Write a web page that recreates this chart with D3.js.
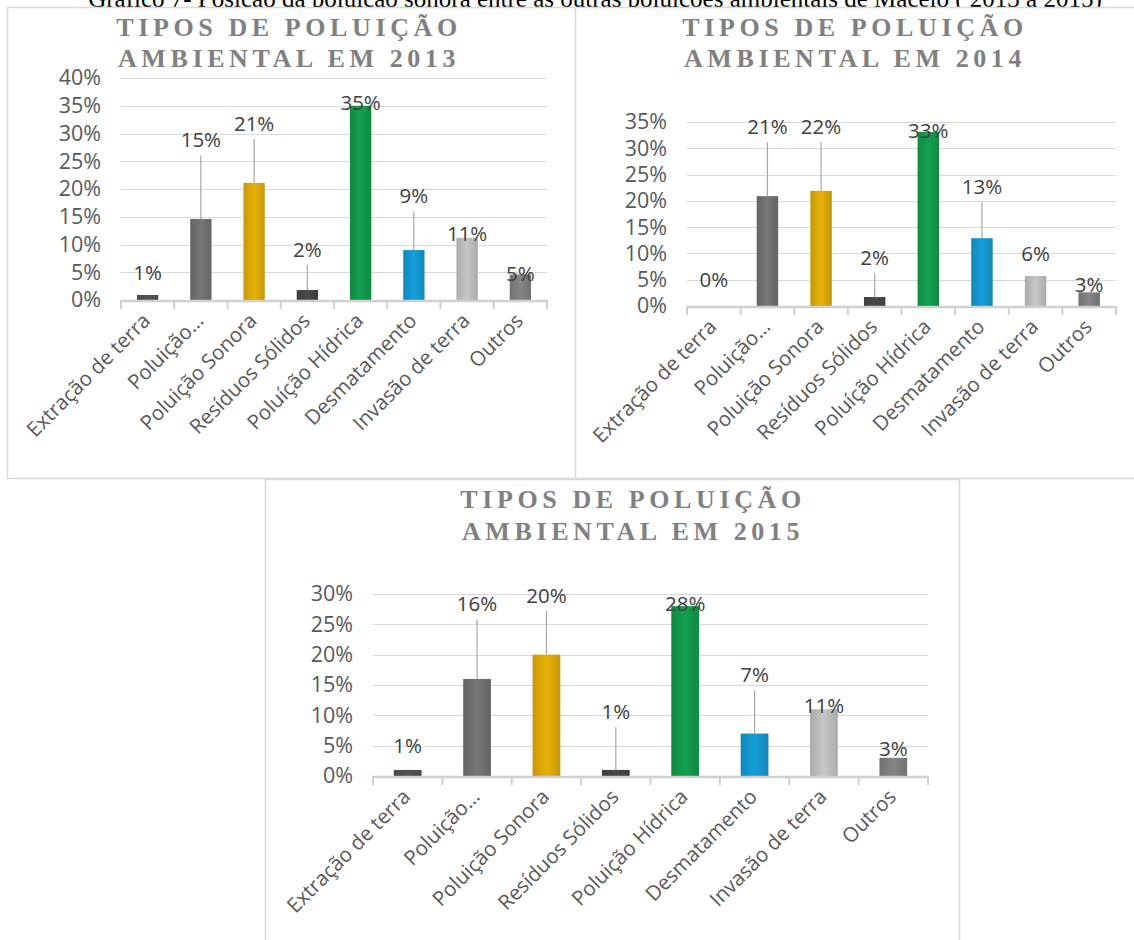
<!DOCTYPE html>
<html lang="pt">
<head>
    <meta charset="UTF-8">
    <title>Tipos de poluição ambiental</title>
    <script src="https://d3js.org/d3.v7.min.js"></script>
    <style>
        body { margin: 0; background: #fff; }
        .grid line { stroke: #d9d9d9; stroke-width: 1.2; }
        .tick-label { font-family: "Open Sans", sans-serif; font-size: 21.5px; fill: #595959; }
        .cat { font-size: 20.5px; }
        .data-label { font-family: "Open Sans", sans-serif; font-size: 20.5px; fill: #404040; }
        .title { font-family: "Liberation Serif", "Times New Roman", serif; font-weight: bold;
                 font-size: 26px; fill: #808080; letter-spacing: 4.6px; }
        .caption { font-family: "Liberation Serif", "Times New Roman", serif; font-size: 25px; fill: #000; }
    </style>
</head>
<body>
    <svg width="1134" height="940"></svg>
    <script>
        // categories and values
        const categories = ["Extração de terra", "Poluição…", "Poluição Sonora", "Resíduos Sólidos",
                            "Poluíção Hídrica", "Desmatamento", "Invasão de terra", "Outros"];
        const categories2015 = ["Extração de terra", "Poluição…", "Poluição Sonora", "Resíduos Sólidos",
                                "Poluição Hídrica", "Desmatamento", "Invasão de terra", "Outros"];
        const values2013 = [0.009, 0.146, 0.211, 0.018, 0.350, 0.090, 0.112, 0.046];
        const values2014 = [0.000, 0.209, 0.219, 0.017, 0.331, 0.129, 0.057, 0.026];
        const values2015 = [0.010, 0.160, 0.200, 0.010, 0.280, 0.070, 0.110, 0.030];
        // where each data label sits (value units), the labels were dragged in the original
        const labelAt2013 = [0.049, 0.288, 0.317, 0.090, 0.355, 0.187, 0.120, 0.047];
        const labelAt2014 = [0.049, 0.340, 0.340, 0.091, 0.333, 0.226, 0.099, 0.040];
        const labelAt2015 = [0.049, 0.283, 0.297, 0.105, 0.283, 0.166, 0.115, 0.045];
        const yTicks2013 = [0, 0.05, 0.10, 0.15, 0.20, 0.25, 0.30, 0.35, 0.40];
        const yTicks2014 = [0, 0.05, 0.10, 0.15, 0.20, 0.25, 0.30, 0.35];
        const yTicks2015 = [0, 0.05, 0.10, 0.15, 0.20, 0.25, 0.30];
        const caption = "Gráfico 7- Posição da poluição sonora entre as outras poluições ambientais de Maceió ( 2013 a 2015)";

        const barColors = ["#505050", "#707070", "#dca808", "#454545", "#12994a", "#1497cf", "#bdbdbd", "#7e7e7e"];

        const panels = [
            { year: 2013, cats: categories, values: values2013, labelAt: labelAt2013, ticks: yTicks2013,
              frame: [7, 7, 569, 471], x0: 121, x1: 547, y0: 300, y1: 78, titleX: 289, titleY: [36, 67] },
            { year: 2014, cats: categories, values: values2014, labelAt: labelAt2014, ticks: yTicks2014,
              frame: [575, 7, 600, 471], x0: 687, x1: 1116, y0: 306, y1: 122, titleX: 855, titleY: [36, 67] },
            { year: 2015, cats: categories2015, values: values2015, labelAt: labelAt2015, ticks: yTicks2015,
              frame: [265, 479, 694, 470], x0: 373, x1: 928, y0: 776, y1: 594, titleX: 633, titleY: [508, 540] }
        ];

        const svg = d3.select("svg");
        const fmt = d3.format(".0%");

        // shaded bar fills
        const defs = svg.append("defs");
        barColors.forEach(function(c, i) {
            const g = defs.append("linearGradient").attr("id", "bar" + i)
                .attr("x1", "0%").attr("x2", "100%").attr("y1", "0%").attr("y2", "0%");
            g.append("stop").attr("offset", "0%").attr("stop-color", d3.color(c).darker(0.3));
            g.append("stop").attr("offset", "50%").attr("stop-color", d3.color(c).brighter(0.15));
            g.append("stop").attr("offset", "100%").attr("stop-color", d3.color(c).darker(0.3));
        });

        svg.append("text").attr("class", "caption")
            .attr("x", 595).attr("y", 7).attr("text-anchor", "middle")
            .text(caption);

        panels.forEach(function(p) {
            const g = svg.append("g");
            g.append("rect")
                .attr("x", p.frame[0] + 0.5).attr("y", p.frame[1] + 0.5)
                .attr("width", p.frame[2]).attr("height", p.frame[3])
                .attr("fill", "#fff").attr("stroke", "#d9d9d9").attr("stroke-width", 1.5);

            const title = g.append("text").attr("class", "title").attr("text-anchor", "middle");
            title.append("tspan").attr("x", p.titleX).attr("y", p.titleY[0]).text("TIPOS DE POLUIÇÃO");
            title.append("tspan").attr("x", p.titleX).attr("y", p.titleY[1]).text("AMBIENTAL EM " + p.year);

            const x = d3.scaleBand().domain(d3.range(p.cats.length)).range([p.x0, p.x1]).paddingInner(0.6).paddingOuter(0.3);
            const y = d3.scaleLinear().domain([0, d3.max(p.ticks)]).range([p.y0, p.y1]);

            // gridlines
            g.append("g").attr("class", "grid")
                .selectAll("line").data(p.ticks.slice(1)).join("line")
                .attr("x1", p.x0).attr("x2", p.x1)
                .attr("y1", d => Math.round(y(d)) + 0.5).attr("y2", d => Math.round(y(d)) + 0.5);

            // y tick labels
            const yAxis = d3.axisLeft(y).tickValues(p.ticks).tickFormat(fmt).tickSize(0).tickPadding(20);
            const ya = g.append("g").attr("transform", "translate(" + p.x0 + ",0)").call(yAxis);
            ya.select(".domain").remove();
            ya.selectAll("text").attr("class", "tick-label").attr("fill", null).attr("font-size", null).attr("font-family", null);

            // bars
            g.selectAll("rect.bar").data(p.values).join("rect").attr("class", "bar")
                .attr("x", (d, i) => x(i)).attr("width", x.bandwidth())
                .attr("y", d => y(d)).attr("height", d => y(0) - y(d))
                .attr("fill", (d, i) => "url(#bar" + i + ")");

            // base axis with tick marks between categories
            const step = (p.x1 - p.x0) / p.cats.length;
            g.append("line").attr("x1", p.x0).attr("x2", p.x1).attr("y1", p.y0 + 1).attr("y2", p.y0 + 1)
                .attr("stroke", "#d0d0d0").attr("stroke-width", 2.5);
            g.selectAll("line.xt").data(d3.range(p.cats.length + 1)).join("line").attr("class", "xt")
                .attr("x1", i => p.x0 + i * step).attr("x2", i => p.x0 + i * step)
                .attr("y1", p.y0).attr("y2", p.y0 + 9)
                .attr("stroke", "#d0d0d0").attr("stroke-width", 2);

            // category labels rotated
            g.selectAll("text.cat").data(p.cats).join("text").attr("class", "tick-label cat")
                .attr("text-anchor", "end")
                .attr("transform", (d, i) => "translate(" + (x(i) + x.bandwidth() / 2 + 4) + "," + (p.y0 + 22) + ") rotate(-45)")
                .text(d => d);

            // leader lines and data labels
            p.values.forEach(function(v, i) {
                const cx = x(i) + x.bandwidth() / 2;
                const ly = y(p.labelAt[i]);
                if (y(v) - (ly + 10) > 18) {
                    g.append("line").attr("x1", cx).attr("x2", cx)
                        .attr("y1", ly + 15).attr("y2", y(v))
                        .attr("stroke", "#a6a6a6").attr("stroke-width", 1.2);
                }
                g.append("text").attr("class", "data-label")
                    .attr("x", cx).attr("y", ly).attr("dy", "0.35em").attr("text-anchor", "middle")
                    .text(fmt(v));
            });
        });
    </script>
</body>
</html>
